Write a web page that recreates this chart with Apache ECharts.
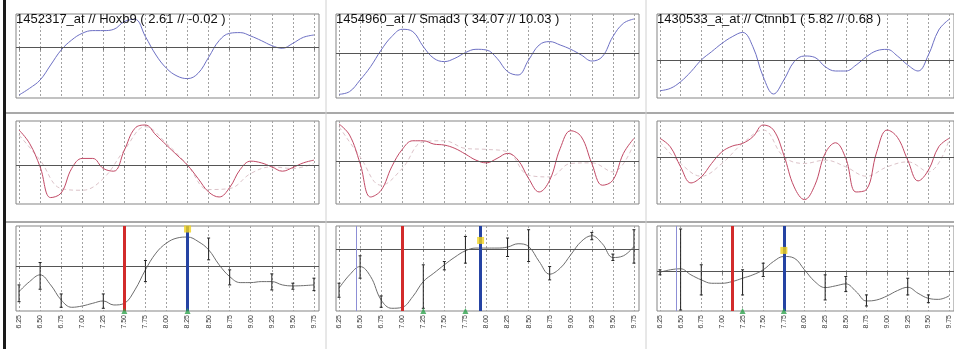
<!DOCTYPE html>
<html>
<head>
<meta charset="utf-8">
<script src="https://cdn.jsdelivr.net/npm/echarts@6/dist/echarts.min.js"></script>
<style>
  html, body { margin: 0; padding: 0; background: #fff; }
  #main { width: 954px; height: 349px; }
</style>
</head>
<body>
<div id="main"></div>
<script>
// time points (days) shown on the x axis
var tickDays = [6.25, 6.5, 6.75, 7, 7.25, 7.5, 7.75, 8, 8.25, 8.5, 8.75, 9, 9.25, 9.5, 9.75];
// curve sample points, read every half step
var fineDays = [6.25, 6.375, 6.5, 6.625, 6.75, 6.875, 7, 7.125, 7.25, 7.375, 7.5, 7.625, 7.75, 7.875,
  8, 8.125, 8.25, 8.375, 8.5, 8.625, 8.75, 8.875, 9, 9.125, 9.25, 9.375, 9.5, 9.625, 9.75];

var titles = [
  '1452317_at // Hoxb9 ( 2.61 // -0.02 )',
  '1454960_at // Smad3 ( 34.07 // 10.03 )',
  '1430533_a_at // Ctnnb1 ( 5.82 // 0.68 )'
];

// row 1: expression profile (blue)
var hoxb9Expr = [-4.77, -4.10, -3.27, -1.77, -0.27, 0.73, 1.40, 1.67, 1.67, 1.80, 2.57, 2.80, 1.07, -0.77,
  -2.10, -2.87, -3.13, -2.60, -1.00, 0.67, 1.40, 1.47, 1.13, 0.67, 0.17, -0.10, 0.40, 1.00, 1.23];
var smad3Expr = [-4.10, -3.83, -2.67, -1.33, 0.33, 1.67, 2.40, 2.17, 0.67, -0.50, -0.83, -0.50, 0.07, 0.40,
  0.33, -0.50, -1.83, -2.17, -0.67, 0.83, 1.17, 0.83, 0.40, -0.17, -0.77, -0.33, 1.67, 3.00, 3.43];
var ctnnb1Expr = [-3.00, -2.77, -2.10, -1.10, 0.07, 0.90, 1.73, 2.40, 2.83, 1.40, -1.60, -3.33, -1.93, -0.10,
  0.47, 0.33, -0.60, -1.03, -1.03, -0.43, 0.40, 1.00, 1.13, 0.47, -0.43, -1.03, 0.57, 3.07, 4.13];

// row 2: detrended profile (red) and trend (faint)
var hoxb9Detr = [3.50, 2.17, -0.17, -3.23, -2.77, -0.33, 0.67, 0.67, -0.33, -0.60, 1.50, 3.67, 4.00, 3.00,
  2.00, 1.00, 0.00, -1.33, -2.67, -3.17, -2.23, -0.43, 0.40, 0.23, -0.17, -0.60, -0.23, 0.23, 0.50];
var smad3Detr = [3.70, 2.60, -0.23, -3.57, -2.90, -0.57, 1.17, 2.03, 2.03, 1.70, 1.60, 1.27, 0.70, 0.10,
  -0.17, 0.27, 0.77, 0.10, -1.73, -3.07, -1.90, 1.27, 3.03, 2.43, -0.23, -2.40, -1.90, 0.77, 2.27];
var ctnnb1Detr = [1.87, 1.03, -0.97, -2.57, -1.97, -0.63, 0.53, 1.10, 1.37, 2.03, 3.20, 2.70, 0.20, -2.97,
  -4.23, -2.80, 0.37, 1.43, -0.13, -3.47, -3.23, 0.53, 2.70, 1.97, -0.30, -2.37, -1.30, 1.03, 1.87];
var hoxb9Trend = [3.00, 0.50, -2.33, -2.50, -1.33, 1.50, 3.83, 2.17, 0.00, -2.43, -2.33, -0.83, -0.17, -0.33, 0.17];
var smad3Trend = [3.43, 0.43, -2.40, -0.73, 1.93, 2.03, 1.27, 1.17, 0.93, -1.40, -1.57, -0.23, -0.17, -1.07, 1.77];
var ctnnb1Trend = [1.53, -0.63, -1.90, -0.63, 1.37, 2.70, 0.03, -0.63, -0.30, -0.97, -1.90, -0.97, -0.47, -1.47, 1.70];

// row 3: mean profile (gray) with error bars [day, low, high]
var hoxb9Mean = [-2.57, -1.57, -0.90, -1.90, -3.40, -4.13, -4.00, -3.73, -3.50, -3.90, -3.73, -2.40, -0.40, 1.27,
  2.27, 2.77, 2.87, 2.43, 1.60, 0.10, -1.07, -1.67, -1.67, -1.57, -1.57, -1.90, -2.00, -1.97, -1.90];
var smad3Mean = [-3.93, -2.60, -1.77, -2.77, -5.10, -5.93, -5.83, -4.77, -3.27, -2.43, -1.60, -0.83, -0.20, 0.07,
  0.07, 0.07, 0.17, 0.50, 0.23, -1.27, -2.53, -1.93, -0.60, 0.73, 1.30, 0.50, -0.87, -0.70, 0.23];
var ctnnb1Mean = [-0.07, 0.17, 0.27, -0.33, -0.83, -1.17, -1.17, -1.00, -0.67, -0.33, 0.17, 1.00, 1.50, 1.33,
  0.17, -1.00, -1.60, -1.43, -1.23, -2.00, -2.93, -2.83, -2.43, -1.90, -1.57, -2.17, -2.67, -2.77, -2.43];
var hoxb9Bars = [[6.25, -3.57, -1.90], [6.5, -2.33, 0.33], [6.75, -4.13, -2.80], [7.25, -4.23, -2.80],
  [7.75, -1.57, 0.53], [8.5, 0.60, 2.77], [8.75, -1.90, -0.40], [9.25, -2.40, -0.80], [9.5, -2.33, -1.73], [9.75, -2.47, -1.23]];
var smad3Bars = [[6.25, -4.83, -3.43], [6.5, -2.93, -0.70], [6.75, -5.83, -4.70], [7.25, -5.93, -1.60],
  [7.5, -2.10, -1.27], [7.75, -1.43, 1.23], [8.25, -0.77, 1.07], [8.5, -1.27, 1.90], [8.75, -3.10, -1.77],
  [9.25, 0.90, 1.63], [9.5, -1.17, -0.53], [9.75, -1.43, 1.90]];
var ctnnb1Bars = [[6.25, -0.33, 0.17], [6.5, -3.83, 4.23], [6.75, -2.33, 0.67], [7.25, -2.33, 0.17],
  [7.5, -0.50, 0.83], [8.25, -2.83, -0.33], [8.5, -2.00, -0.50], [8.75, -3.43, -2.33], [9.25, -2.33, -0.67], [9.5, -3.10, -2.33]];

// row 3 markers
var redDay = [7.5, 7.0, 7.12];
var blueDay = [8.25, 7.93, 7.75];
var lavenderDay = [null, 6.45, 6.45];
var yellowLevel = [3.67, 0.83, 2.10];
var greenDays = [[7.5, 8.25], [7.25, 7.75], [7.25, 7.75]];

// layout
var colLeft = [16, 336, 657];
var panelW = 303;
var rowTop = [14, 121, 226];
var rowH = [84, 83, 85];
var yRange = [
  [[-5.07, 3.33], [-4.47, 3.93], [-3.73, 4.67]],
  [[-3.87, 4.40], [-4.27, 4.00], [-4.67, 3.60]],
  [[-4.50, 3.97], [-6.20, 2.27], [-3.93, 4.53]]
];

var exprRows = [
  [hoxb9Expr, smad3Expr, ctnnb1Expr],
  [hoxb9Detr, smad3Detr, ctnnb1Detr],
  [hoxb9Mean, smad3Mean, ctnnb1Mean]
];
var trends = [hoxb9Trend, smad3Trend, ctnnb1Trend];
var bars = [hoxb9Bars, smad3Bars, ctnnb1Bars];
var lineColors = ['#6d70c4', '#c24a66', '#6e6e6e'];

function zip(xs, ys) {
  return xs.map(function (x, i) { return [x, ys[i]]; });
}

var zeroLine = {
  silent: true, symbol: 'none', label: { show: false },
  lineStyle: { color: '#555', type: 'solid', width: 1 },
  data: [{ yAxis: 0 }]
};

var grids = [], xAxes = [], yAxes = [], series = [], titleList = [];

for (var r = 0; r < 3; r++) {
  for (var c = 0; c < 3; c++) {
    var i = r * 3 + c;
    grids.push({
      left: colLeft[c], top: rowTop[r], width: panelW, height: rowH[r],
      show: true, borderColor: '#858585', borderWidth: 1, backgroundColor: 'transparent'
    });
    xAxes.push({
      gridIndex: i, type: 'value', min: 6.214, max: 9.81,
      axisLine: { show: false },
      axisTick: { show: true, customValues: tickDays, length: 3, lineStyle: { color: '#777' } },
      axisLabel: {
        show: r === 2, customValues: tickDays, rotate: 90, fontSize: 7, margin: 4,
        color: '#333', fontFamily: 'Liberation Sans',
        formatter: function (v) { return v.toFixed(2); }
      },
      splitLine: { show: true, lineStyle: { color: '#a2a2a2', type: [2, 2], width: 1 } }
    });
    yAxes.push({ gridIndex: i, type: 'value', min: yRange[r][c][0], max: yRange[r][c][1], show: false });

    series.push({
      type: 'line', xAxisIndex: i, yAxisIndex: i, smooth: 0.4, symbol: 'none',
      lineStyle: { color: lineColors[r], width: 1 },
      data: zip(fineDays, exprRows[r][c]),
      markLine: zeroLine, z: 3
    });

    if (r === 1) {
      series.push({
        type: 'line', xAxisIndex: i, yAxisIndex: i, smooth: 0.4, symbol: 'none',
        lineStyle: { color: '#dcc3c9', width: 1, type: [4, 3] },
        data: zip(tickDays, trends[c]), z: 2
      });
    }

    if (r === 2) {
      series.push({
        type: 'custom', xAxisIndex: i, yAxisIndex: i, z: 4,
        encode: { x: 0, y: [1, 2] },
        data: bars[c],
        renderItem: function (params, api) {
          var lo = api.coord([api.value(0), api.value(1)]);
          var hi = api.coord([api.value(0), api.value(2)]);
          var st = { stroke: '#222', lineWidth: 1 };
          return {
            type: 'group', children: [
              { type: 'line', shape: { x1: hi[0], y1: hi[1], x2: lo[0], y2: lo[1] }, style: st },
              { type: 'line', shape: { x1: hi[0] - 1.5, y1: hi[1], x2: hi[0] + 1.5, y2: hi[1] }, style: st },
              { type: 'line', shape: { x1: lo[0] - 1.5, y1: lo[1], x2: lo[0] + 1.5, y2: lo[1] }, style: st }
            ]
          };
        }
      });
      var vlines = [
        { xAxis: redDay[c], lineStyle: { color: '#d22b2b', width: 3, type: 'solid' } },
        { xAxis: blueDay[c], lineStyle: { color: '#2543a3', width: 3, type: 'solid' } }
      ];
      if (lavenderDay[c] !== null) {
        vlines.unshift({ xAxis: lavenderDay[c], lineStyle: { color: '#8d8fd6', width: 1, type: 'solid' } });
      }
      series.push({
        type: 'scatter', xAxisIndex: i, yAxisIndex: i, z: 6,
        symbol: 'triangle', symbolSize: 6, itemStyle: { color: '#2fa24d' },
        data: greenDays[c].map(function (d) { return [d, yRange[2][c][0]]; }),
        markLine: { silent: true, symbol: 'none', label: { show: false }, data: vlines, z: 5 }
      });
      series.push({
        type: 'scatter', xAxisIndex: i, yAxisIndex: i, z: 7,
        symbol: 'rect', symbolSize: 7, itemStyle: { color: '#f1d21c' },
        data: [[blueDay[c], yellowLevel[c]]]
      });
    }
  }
}

for (var k = 0; k < 3; k++) {
  titleList.push({
    text: titles[k], left: colLeft[k], top: 13, padding: 0,
    textStyle: { fontSize: 13, fontWeight: 'normal', color: '#111', fontFamily: 'Liberation Sans' }
  });
}

var chart = echarts.init(document.getElementById('main'));
chart.setOption({
  animation: false,
  backgroundColor: '#fff',
  title: titleList,
  grid: grids,
  xAxis: xAxes,
  yAxis: yAxes,
  series: series,
  graphic: [
    { type: 'rect', shape: { x: 3, y: 0, width: 3, height: 349 }, style: { fill: '#1a1a1a' }, silent: true },
    { type: 'line', shape: { x1: 6, y1: 113, x2: 954, y2: 113 }, style: { stroke: '#8c8c8c', lineWidth: 1.5 }, silent: true },
    { type: 'line', shape: { x1: 6, y1: 222, x2: 954, y2: 222 }, style: { stroke: '#8c8c8c', lineWidth: 1.5 }, silent: true },
    { type: 'line', shape: { x1: 326, y1: 0, x2: 326, y2: 349 }, style: { stroke: '#d0d0d0', lineWidth: 1 }, silent: true },
    { type: 'line', shape: { x1: 646, y1: 0, x2: 646, y2: 349 }, style: { stroke: '#d0d0d0', lineWidth: 1 }, silent: true }
  ]
});
</script>
</body>
</html>
